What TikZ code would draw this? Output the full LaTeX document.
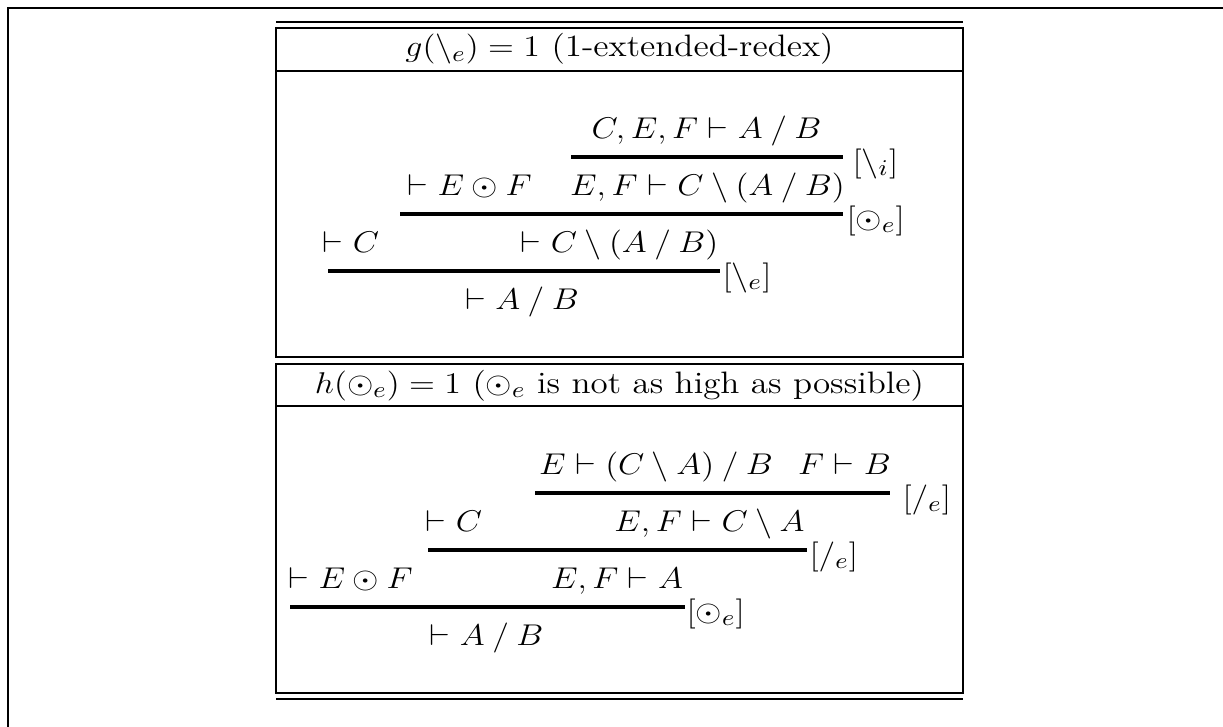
\documentclass[tikz,border=0pt]{standalone}
\usepackage{graphicx}
\newcommand{\lres}{\mathbin{\backslash}}
\newcommand{\rres}{\mathbin{/}}
\newcommand{\wide}[1]{\scalebox{1.13}[1.0]{#1}}
\begin{document}
\begin{tikzpicture}[x=0.4pt,y=-0.4pt,
  txt/.style={inner sep=0pt, anchor=base, font=\fontsize{12.4}{14}\selectfont},
  lbl/.style={inner sep=0pt, anchor=base west, font=\fontsize{12.4}{14}\selectfont},
  infline/.style={line width=1.4pt},
  tabline/.style={line width=0.85pt},
  outer/.style={line width=0.95pt, line join=miter}]
\useasboundingbox (0,0) rectangle (1223,726);
% outer frame
\draw[outer] (8,740) -- (8,8) -- (1240,8);
% table rules and boxes
\draw[line width=0.65pt] (276,22) -- (963,22);
\draw[tabline] (276,28) rectangle (963,357);
\draw[tabline] (276,71) -- (963,71);
\draw[tabline] (276,364) rectangle (963,693);
\draw[tabline] (276,406) -- (963,406);
\draw[line width=1.15pt] (276,699) -- (963,699);
% headers
\node[txt] (h1) at (619.5,57) {\wide{$g(\backslash_e) = 1$ (1-extended-redex)}};
\node[txt] (h2) at (619.5,393) {\wide{$h(\odot_e) = 1$ ($\odot_e$ is not as high as possible)}};
% section 1 proof
\node[txt] (t1) at (706.5,138) {\wide{$C, E, F \vdash A \rres B$}};
\node[txt] (t2) at (469.5,195) {\wide{$\vdash E \odot F$}};
\node[txt] (t3) at (707.5,195) {\wide{$E, F \vdash C \lres (A \rres B)$}};
\node[txt] (t4) at (351,252) {\wide{$\vdash C$}};
\node[txt] (t5) at (619.5,252) {\wide{$\vdash C \lres (A \rres B)$}};
\node[txt] (t6) at (522,309) {\wide{$\vdash A \rres B$}};
\draw[infline] (571,157) -- (843,157);
\node[lbl] (l1) at (852,171) {\wide{$[\backslash_i]$}};
\draw[infline] (400,214) -- (843,214);
\node[lbl] (l2) at (846,228) {\wide{$[\odot_e]$}};
\draw[infline] (328,271) -- (720,271);
\node[lbl] (l3) at (722,285) {\wide{$[\backslash_e]$}};
% section 2 proof
\node[txt] (s1) at (656,474) {\wide{$E \vdash (C \lres A) \rres B$}};
\node[txt] (s2) at (844.5,474) {\wide{$F \vdash B$}};
\node[txt] (s3) at (454,531) {\wide{$\vdash C$}};
\node[txt] (s4) at (709.5,531) {\wide{$E, F \vdash C \lres A$}};
\node[txt] (s5) at (350.5,588) {\wide{$\vdash E \odot F$}};
\node[txt] (s6) at (617,588) {\wide{$E, F \vdash A$}};
\node[txt] (s7) at (486.5,645) {\wide{$\vdash A \rres B$}};
\draw[infline] (535,493) -- (890,493);
\node[lbl] (l4) at (902,507) {\wide{$[/_e]$}};
\draw[infline] (428,550) -- (807,550);
\node[lbl] (l5) at (809,564) {\wide{$[/_e]$}};
\draw[infline] (290,607) -- (685,607);
\node[lbl] (l6) at (686,621) {\wide{$[\odot_e]$}};
\end{tikzpicture}
\end{document}
